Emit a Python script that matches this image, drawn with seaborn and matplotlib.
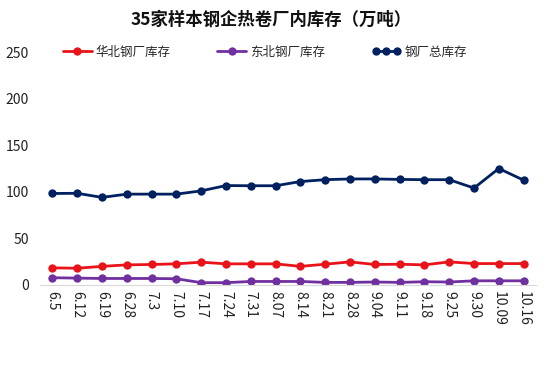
import pandas as pd
import seaborn as sns
import matplotlib.pyplot as plt
from matplotlib.legend_handler import HandlerLine2D

# dados (万吨)
datas = ['6.5', '6.12', '6.19', '6.28', '7.3', '7.10', '7.17', '7.24', '7.31', '8.07',
         '8.14', '8.21', '8.28', '9.04', '9.11', '9.18', '9.25', '9.30', '10.09', '10.16']
huabei = [18.4, 18, 20, 21.6, 22, 22.7, 24.5, 22.7, 22.7, 22.7,
          20, 22.3, 24.8, 22, 22.3, 21.6, 24.8, 23, 23, 23]
dongbei = [7.8, 7.4, 7, 7, 7, 6.7, 2.5, 2.5, 3.8, 3.8,
           3.8, 2.8, 2.8, 3.2, 2.8, 3.5, 3.2, 4.5, 4.5, 4.5]
zong = [98.2, 98.4, 94, 97.5, 97.5, 97.5, 101, 106.7, 106.5, 106.5,
        111, 113, 113.8, 113.8, 113.3, 113, 113, 104, 125, 112.5]

series = ['华北钢厂库存', '东北钢厂库存', '钢厂总库存']
cores = ['#E8141A', '#7030A0', '#002060']

df = pd.DataFrame({'data': datas, series[0]: huabei, series[1]: dongbei, series[2]: zong})

sns.set_style('white')
plt.rcParams['font.family'] = ['Noto Sans CJK SC', 'DejaVu Sans']

fig = plt.figure(figsize=(5.54, 3.66), dpi=100)
ax = fig.add_axes([40 / 554, 1 - 285 / 366, 496 / 554, 233 / 366])

linhas = []
for nome, cor in zip(series, cores):
    sns.lineplot(data=df, x='data', y=nome, ax=ax, color=cor, linewidth=2,
                 marker='o', markersize=6, markeredgewidth=0, sort=False, label=nome)
    linhas.append(ax.lines[-1])

ax.set_ylim(0, 250)
ax.set_yticks([0, 50, 100, 150, 200, 250])
ax.set_xlim(-0.5, len(datas) - 0.5)
ax.set_xlabel('')
ax.set_ylabel('')
for s in ['left', 'right', 'top']:
    ax.spines[s].set_visible(False)
ax.spines['bottom'].set_color('#D9D9D9')
ax.tick_params(axis='y', length=0, labelsize=10, pad=8, colors='#222222')
ax.tick_params(axis='x', length=0, labelsize=10, pad=4, colors='#222222', labelrotation=-90)
for t in ax.get_xticklabels():
    t.set_va('top')

ax.legend(handles=linhas, labels=series, ncol=3, frameon=False, fontsize=9,
          loc='center left', bbox_to_anchor=(63 / 554, 1 - 52 / 366),
          bbox_transform=fig.transFigure, borderpad=0, borderaxespad=0,
          handlelength=2.3, handletextpad=0.3, columnspacing=3.75,
          handler_map={linhas[2]: HandlerLine2D(numpoints=3)})

fig.text(0.49, 1 - 20 / 366, '35家样本钢企热卷厂内库存（万吨）', ha='center', va='center',
         fontsize=12.5, fontweight='bold', color='#111111')

plt.savefig('out.png', dpi=100)
